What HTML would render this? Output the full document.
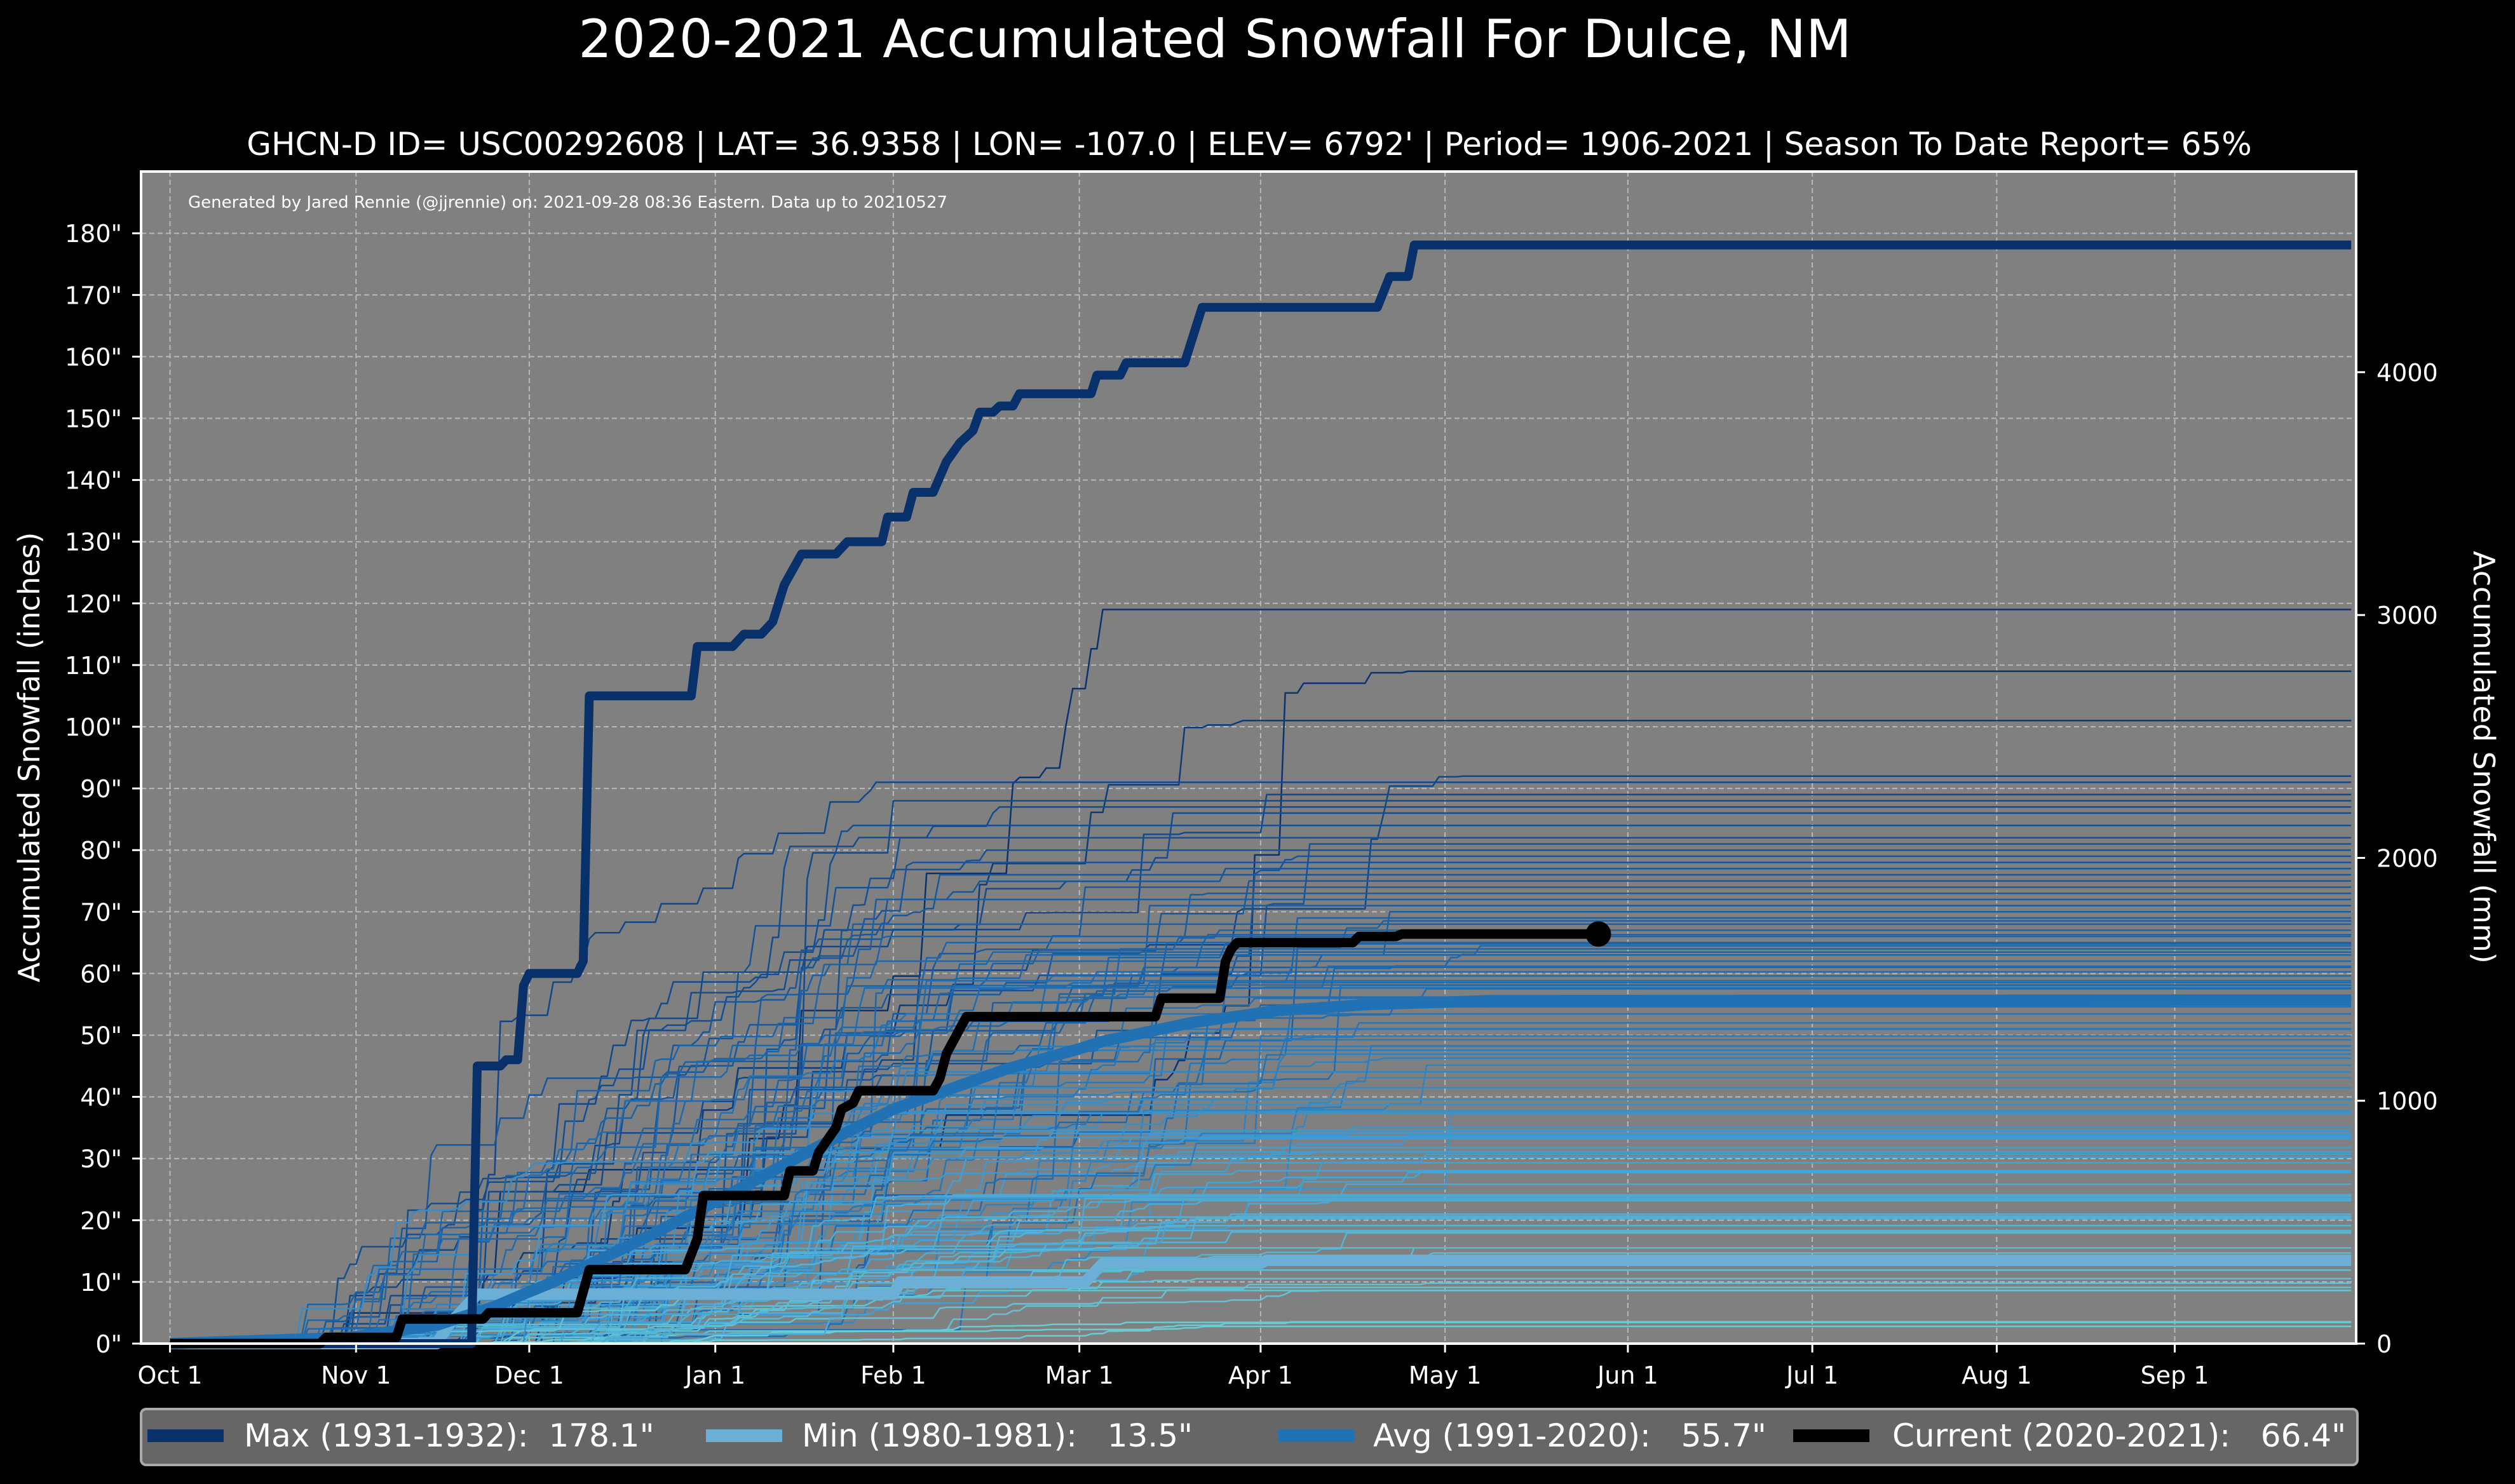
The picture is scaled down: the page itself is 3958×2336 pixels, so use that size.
<!DOCTYPE html>
<html><head><meta charset="utf-8"><style>
html,body{margin:0;padding:0;background:#000;}
svg{display:block;}
text{font-family:"DejaVu Sans","Liberation Sans",sans-serif;fill:#fff;}
</style></head><body>
<svg id="s" width="3958" height="2336" viewBox="0 0 3958 2336" xmlns="http://www.w3.org/2000/svg">
<rect x="0" y="0" width="3958" height="2336" fill="#000"/>
<text x="1912" y="90" font-size="83" text-anchor="middle">2020-2021 Accumulated Snowfall For Dulce, NM</text>
<text x="1966" y="244" font-size="50" text-anchor="middle">GHCN-D ID= USC00292608 | LAT= 36.9358 | LON= -107.0 | ELEV= 6792' | Period= 1906-2021 | Season To Date Report= 65%</text>
<rect x="222" y="270" width="3486" height="1845" fill="#808080"/>
<g id="grid"></g>
<g id="spag" fill="none" stroke-width="2.5" stroke-linejoin="round"></g>
<g id="main" fill="none" stroke-linejoin="round"></g>
<text x="296" y="327" font-size="26">Generated by Jared Rennie (@jjrennie) on: 2021-09-28 08:36 Eastern. Data up to 20210527</text>
<rect x="222" y="270" width="3486" height="1845" fill="none" stroke="#fff" stroke-width="4"/>
<g id="ticks"></g>
<text transform="translate(62,1192) rotate(-90)" font-size="46" text-anchor="middle">Accumulated Snowfall (inches)</text>
<text transform="translate(3893,1192) rotate(90)" font-size="46" text-anchor="middle">Accumulated Snowfall (mm)</text>
<rect x="222" y="2218" width="3488" height="88" rx="8" fill="#666" stroke="#aaa" stroke-width="4"/>
<line x1="232" y1="2260" x2="352" y2="2260" stroke="#08306b" stroke-width="20"/>
<text x="384" y="2277" font-size="50" xml:space="preserve">Max (1931-1932):  178.1"</text>
<line x1="1111" y1="2260" x2="1231" y2="2260" stroke="#6baed6" stroke-width="20"/>
<text x="1262" y="2277" font-size="50" xml:space="preserve">Min (1980-1981):   13.5"</text>
<line x1="2012" y1="2260" x2="2132" y2="2260" stroke="#2171b5" stroke-width="20"/>
<text x="2161" y="2277" font-size="50" xml:space="preserve">Avg (1991-2020):   55.7"</text>
<line x1="2822" y1="2260" x2="2942" y2="2260" stroke="#000" stroke-width="20"/>
<text x="2978" y="2277" font-size="50" xml:space="preserve">Current (2020-2021):   66.4"</text>
</svg>
<script>
var NS="http://www.w3.org/2000/svg";
var mdays=[0,31,61,92,123,151,182,212,243,273,304,335,365];
var mpos=[106,222,330,446,557,673,786,901,1015,1130,1245,1356,1466].map(function(v){return v*2.524;});
function px(d){if(d<=0)return mpos[0]+d*9.4;for(var i=1;i<mdays.length;i++){if(d<=mdays[i]){return mpos[i-1]+(mpos[i]-mpos[i-1])*(d-mdays[i-1])/(mdays[i]-mdays[i-1]);}}return mpos[12];}
function py(v){return 2115-v*9.71;}
function el(p,tag,a,txt){var e=document.createElementNS(NS,tag);for(var k in a)e.setAttribute(k,a[k]);if(txt!==undefined)e.textContent=txt;p.appendChild(e);return e;}
var grid=document.getElementById('grid'),ticks=document.getElementById('ticks');
for(var v=0;v<=180;v+=10){var y=py(v);
 if(v>0)el(grid,'line',{x1:222,x2:3708,y1:y,y2:y,stroke:'#b8b8b8','stroke-width':2,'stroke-dasharray':'8,5'});
 el(ticks,'line',{x1:208,x2:222,y1:y,y2:y,stroke:'#fff','stroke-width':3});
 el(ticks,'text',{x:192,y:y+14,'font-size':38,'text-anchor':'end'},v+'"');}
var months=['Oct 1','Nov 1','Dec 1','Jan 1','Feb 1','Mar 1','Apr 1','May 1','Jun 1','Jul 1','Aug 1','Sep 1'];
months.forEach(function(m,i){var x=mpos[i];
 el(grid,'line',{x1:x,x2:x,y1:270,y2:2115,stroke:'#b8b8b8','stroke-width':2,'stroke-dasharray':'8,5'});
 el(ticks,'line',{x1:x,x2:x,y1:2115,y2:2129,stroke:'#fff','stroke-width':3});
 el(ticks,'text',{x:x,y:2178,'font-size':38,'text-anchor':'middle'},m);});
for(var mm=0;mm<=4000;mm+=1000){var y=py(mm/25.4);
 el(ticks,'line',{x1:3708,x2:3722,y1:y,y2:y,stroke:'#fff','stroke-width':3});
 el(ticks,'text',{x:3740,y:y+14,'font-size':38},String(mm));}
var seed=777;function rnd(){seed=(seed*1103515245+12345)%2147483648;return seed/2147483648;}
function lerp(a,b,t){return a+(b-a)*t;}
var stops=[[0,[110,210,210]],[0.25,[70,165,215]],[0.5,[33,113,181]],[0.75,[20,80,150]],[1,[10,50,110]]];
function col(t){t=Math.max(0,Math.min(1,t));for(var i=1;i<stops.length;i++){if(t<=stops[i][0]){var a=stops[i-1],b=stops[i],f=(t-a[0])/(b[0]-a[0]);return 'rgb('+Math.round(lerp(a[1][0],b[1][0],f))+','+Math.round(lerp(a[1][1],b[1][1],f))+','+Math.round(lerp(a[1][2],b[1][2],f))+')';}}return 'rgb(10,50,110)';}
var spag=document.getElementById('spag');
var totals=[119,109,101,92,91,89,88,87,86,84,82,81,80,79,78,77,76,75,74,73,72,71,70,69,68,67,66,65,64,63,62,61];
for(var i=0;i<50;i++){totals.push(25+rnd()*45);}
for(var i=0;i<35;i++){totals.push(1+rnd()*40);}
totals.forEach(function(T){
 var s=20+rnd()*55,e=120+rnd()*100,n=10+Math.floor(rnd()*22);
 var ev=[],sum=0;for(var k=0;k<n;k++){var d=Math.floor(s+rnd()*(e-s));var sz=-Math.log(rnd()+1e-6);ev.push([d,sz]);sum+=sz;}
 var daily=new Array(366).fill(0);ev.forEach(function(q){daily[q[0]]+=q[1]/sum*T;});
 var c=0,pts=[];for(var d=0;d<=365;d++){c+=daily[d];pts.push(px(d).toFixed(1)+','+py(c).toFixed(1));}
 el(spag,'polyline',{points:pts.join(' '),stroke:col(T/110)});});
function stepLine(kp){return kp.map(function(p){return px(p[0]).toFixed(1)+','+py(p[1]).toFixed(1);}).join(' ');}
var main=document.getElementById('main');
var minp=[[0,0],[45,0],[47,3],[52,8],[123,8],[124,10],[152,10],[154,12],[155,13],[182,13],[183,13.5],[365,13.5]];
el(main,'polyline',{points:stepLine(minp),stroke:'#6baed6','stroke-width':18});
var ak=[[0,0],[30,1],[45,3],[55,6],[65,10],[80,17],[92,23],[110,32],[123,38],[140,44.5],[155,49],[170,52],[185,54],[200,55],[220,55.6],[365,55.7]];
var ap=[];for(var d=0;d<=365;d++){for(var j=1;j<ak.length;j++){if(d<=ak[j][0]){var a=ak[j-1],b=ak[j];ap.push([d,a[1]+(b[1]-a[1])*(d-a[0])/(b[0]-a[0])]);break;}}}
el(main,'polyline',{points:stepLine(ap),stroke:'#2171b5','stroke-width':18});
var maxp=[[0,0],[51,0],[52,45],[56,45],[57,46],[59,46],[60,58],[61,60],[69,60],[70,62],[71,105],[88,105],[89,113],[95,113],[97,115],[100,115],[102,117],[104,123],[107,128],[113,128],[115,130],[121,130],[122,134],[125,134],[126,138],[129,138],[131,143],[133,146],[135,148],[136,151],[138,151],[139,152],[141,152],[142,154],[153,154],[154,157],[158,157],[159,159],[169,159],[170,162],[172,168],[201,168],[203,173],[206,173],[207,178.1],[365,178.1]];
el(main,'polyline',{points:stepLine(maxp),stroke:'#08306b','stroke-width':14});
var cur=[[0,0],[25,0],[26,1],[38,1],[39,4],[53,4],[54,5],[69,5],[71,12],[87,12],[89,17],[90,24],[104,24],[105,28],[109,28],[110,31],[113,35],[114,38],[116,39],[117,41],[129,41],[130,43],[131,47],[133,51],[134,53],[164,53],[165,56],[175,56],[176,62],[177,64],[178,65],[197,65],[198,66],[204,66],[205,66.4],[238,66.4]];
el(main,'polyline',{points:stepLine(cur),stroke:'#000','stroke-width':15});
el(main,'circle',{cx:px(238),cy:py(66.4),r:20,fill:'#000'});
</script>
</body></html>
